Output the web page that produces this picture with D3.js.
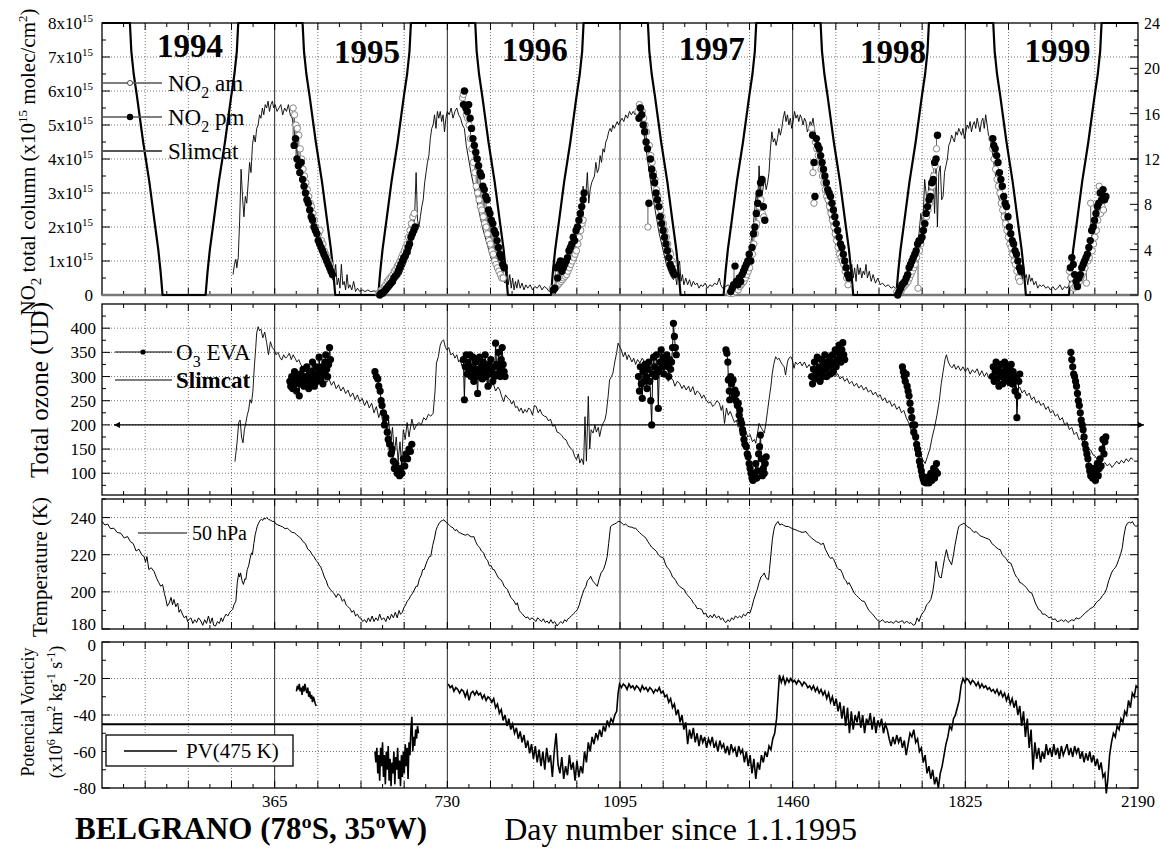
<!DOCTYPE html>
<html>
<head>
<meta charset="utf-8">
<script src="https://cdn.jsdelivr.net/npm/d3@7"></script>
<style>
body { margin: 0; background: #fff; }
svg text { font-family: "Liberation Serif", "Times New Roman", serif; fill: #000; }
</style>
</head>
<body>
<svg id="chart" width="1160" height="848"></svg>
<script>
// ---- data (days counted on the figure's own axis, 0 = left edge) ----
var years = ['1994', '1995', '1996', '1997', '1998', '1999'];
var yearLabelDay = [186, 560, 915, 1289, 1672, 2020];
var xTickDays = [365, 730, 1095, 1460, 1825, 2190];

// hours of sunlight (thick line, right axis)
var sunDay = [0, 59, 62, 67, 74, 87, 100, 111, 119, 124, 128, 219, 223, 228, 236, 247, 260, 273, 280, 285, 288,
  424, 427, 432, 439, 452, 465, 476, 484, 489, 493, 584, 588, 593, 601, 612, 625, 638, 645, 650, 653,
  789, 792, 797, 804, 817, 830, 841, 849, 854, 858, 949, 953, 958, 966, 977, 990, 1003, 1010, 1015, 1018,
  1154, 1157, 1162, 1169, 1182, 1195, 1206, 1214, 1219, 1223, 1314, 1318, 1323, 1331, 1342, 1355, 1368, 1375, 1380, 1383,
  1519, 1522, 1527, 1534, 1547, 1560, 1571, 1579, 1584, 1588, 1679, 1683, 1688, 1696, 1707, 1720, 1733, 1740, 1745, 1748,
  1884, 1887, 1892, 1899, 1912, 1925, 1936, 1944, 1949, 1953, 2044, 2048, 2053, 2061, 2072, 2085, 2098, 2105, 2110, 2113, 2190];
var sunHours = [24, 24, 21.5, 19.5, 17.5, 13.5, 10, 6.5, 4, 2, 0, 0, 2, 4, 6.5, 10, 13.5, 17.5, 19.5, 21.5, 24,
  24, 21.5, 19.5, 17.5, 13.5, 10, 6.5, 4, 2, 0, 0, 2, 4, 6.5, 10, 13.5, 17.5, 19.5, 21.5, 24,
  24, 21.5, 19.5, 17.5, 13.5, 10, 6.5, 4, 2, 0, 0, 2, 4, 6.5, 10, 13.5, 17.5, 19.5, 21.5, 24,
  24, 21.5, 19.5, 17.5, 13.5, 10, 6.5, 4, 2, 0, 0, 2, 4, 6.5, 10, 13.5, 17.5, 19.5, 21.5, 24,
  24, 21.5, 19.5, 17.5, 13.5, 10, 6.5, 4, 2, 0, 0, 2, 4, 6.5, 10, 13.5, 17.5, 19.5, 21.5, 24,
  24, 21.5, 19.5, 17.5, 13.5, 10, 6.5, 4, 2, 0, 0, 2, 4, 6.5, 10, 13.5, 17.5, 19.5, 21.5, 24, 24];

// NO2 Slimcat, x10^15 molec/cm2
var no2Slimcat = [[277,0.6],[280,0.9],[283,1.05],[285,0.8],[288,1.1],[291,2.2],[294,3.7],[297,2.9],[300,2.3],[303,2.9],[306,2.7],[309,3.3],[312,3.9],[315,3.6],[318,4.4],[321,4.7],[324,4.5],[327,4.9],[330,5.0],[333,5.3],[336,5.2],[339,5.5],[342,5.3],[345,5.6],[348,5.5],[351,5.7],[354,5.4],[357,5.6],[360,5.7],[363,5.5],[366,5.6],[370,5.4],[374,5.5],[378,5.6],[382,5.3],[386,5.5],[390,5.4],[394,5.6],[398,5.3],[402,5.2],
  [406,4.9],[410,4.4],[415,3.9],[420,3.5],[426,3.1],[432,2.8],[438,2.4],[444,2.1],[450,1.8],[456,1.6],[462,1.3],[468,1.1],[474,0.9],[480,0.7],[486,0.5],[490,0.4],
  [494,0.9],[497,0.3],[500,0.5],[503,0.2],[506,0.9],[509,0.3],[512,0.4],[515,0.15],[518,0.6],[521,0.2],[524,0.3],[528,0.15],[532,0.4],[536,0.1],[540,0.2],[545,0.1],[550,0.15],[556,0.1],[562,0.15],[568,0.1],[575,0.12],[582,0.1],[588,0.1],
  [595,0.2],[602,0.25],[610,0.35],[618,0.45],[625,0.5],[632,0.6],[638,0.8],[644,1.0],[648,1.3],[651,1.2],[655,1.6],[658,1.9],[661,2.4],[664,3.6],[667,2.2],[670,2.0],[673,2.3],[676,2.6],[679,2.8],[682,3.3],[685,3.6],[688,3.9],[691,4.1],[694,4.6],[697,4.9],[700,5.0],[703,5.3],[706,4.9],[709,5.4],[712,5.2],[715,5.4],[718,5.1],[721,5.3],[724,4.8],[727,5.2],[730,5.4],[734,5.3],[738,5.5],[742,5.2],[746,5.4],[750,5.5],[754,5.3],[758,5.2],[762,5.0],
  [766,4.9],[770,4.4],[775,4.0],[780,3.6],[786,3.2],[792,2.8],[798,2.4],[804,2.0],[810,1.7],[816,1.4],[822,1.1],[828,0.9],[834,0.7],[840,0.55],[846,0.45],[852,0.35],
  [856,0.9],[859,0.3],[862,0.6],[865,0.2],[868,0.5],[871,0.15],[874,0.4],[877,0.2],[880,0.45],[884,0.2],[888,0.35],[892,0.15],[896,0.3],[900,0.2],[905,0.3],[910,0.15],[915,0.25],[920,0.2],[925,0.3],[930,0.15],[935,0.25],[940,0.2],[945,0.1],[950,0.15],
  [956,0.2],[962,0.3],[968,0.4],[975,0.5],[982,0.6],[989,0.8],[995,1.1],[1000,1.4],[1005,1.8],[1010,2.2],[1014,2.6],[1017,3.2],[1020,2.8],[1023,3.0],[1026,3.6],[1029,2.7],[1032,3.1],[1035,3.3],[1038,3.4],[1041,3.5],[1044,3.9],[1047,3.6],[1050,3.7],[1053,4.1],[1056,3.9],[1059,4.3],[1062,4.2],[1065,4.5],[1068,4.6],[1071,4.8],[1074,4.9],[1077,4.8],[1080,5.0],[1083,4.9],[1086,5.0],[1089,5.1],[1092,5.0],[1095,5.1],[1099,5.2],[1103,5.1],[1107,5.3],[1111,5.2],[1115,5.4],[1119,5.3],[1123,5.4],[1127,5.3],[1131,5.5],[1135,5.6],[1139,5.4],
  [1143,5.0],[1148,4.5],[1153,4.0],[1158,3.5],[1163,3.0],[1168,2.6],[1173,2.2],[1178,1.8],[1183,1.5],[1188,1.2],[1193,0.9],[1198,0.7],[1203,0.55],[1208,0.45],
  [1212,0.6],[1215,0.3],[1218,0.8],[1221,1.0],[1224,0.4],[1227,0.6],[1230,0.3],[1234,0.5],[1238,0.3],[1242,0.45],[1246,0.25],[1250,0.4],[1254,0.3],[1258,0.35],[1262,0.2],[1266,0.3],[1270,0.25],[1275,0.35],[1280,0.2],[1285,0.3],[1290,0.25],[1295,0.35],[1300,0.3],[1305,0.5],[1308,0.3],[1312,0.2],
  [1318,0.25],[1324,0.3],[1330,0.2],[1336,0.4],[1342,0.45],[1348,0.5],[1354,0.7],[1360,0.9],[1366,1.2],[1371,1.5],[1375,1.8],[1379,2.4],[1383,3.0],[1386,2.7],[1389,3.8],[1392,3.0],[1395,2.9],[1398,3.2],[1401,3.4],[1404,3.1],[1407,3.3],[1410,3.6],[1413,4.3],[1416,4.8],[1419,4.5],[1422,4.6],[1425,4.4],[1428,4.6],[1431,4.9],[1434,4.7],[1437,4.9],[1440,5.2],[1443,5.4],[1446,5.1],[1449,5.3],[1452,5.0],[1455,5.2],[1458,4.9],[1461,5.1],[1464,5.4],[1467,5.2],[1470,5.3],[1473,5.1],[1476,5.3],[1479,5.2],[1482,5.0],[1485,5.2],[1488,5.1],[1491,4.8],[1494,4.9],[1497,5.1],[1500,5.0],[1503,5.2],
  [1507,4.8],[1511,4.4],[1516,4.0],[1521,3.6],[1526,3.2],[1531,2.8],[1536,2.4],[1541,2.1],[1546,1.8],[1551,1.5],[1556,1.2],[1561,1.0],[1566,0.8],[1571,0.6],[1576,0.5],[1581,0.45],
  [1585,0.9],[1588,0.5],[1591,0.8],[1594,0.4],[1597,0.9],[1600,0.6],[1603,0.8],[1606,0.5],[1609,0.7],[1612,0.6],[1615,0.9],[1618,0.5],[1622,0.7],[1626,0.4],[1630,0.6],[1635,0.35],[1640,0.5],[1645,0.3],[1650,0.35],[1656,0.25],[1662,0.3],[1668,0.2],[1674,0.25],[1680,0.15],
  [1686,0.2],[1692,0.3],[1698,0.45],[1704,0.6],[1710,0.8],[1716,1.1],[1722,1.4],[1727,1.8],[1731,2.4],[1735,2.0],[1739,3.4],[1742,3.0],[1745,2.6],[1748,3.3],[1751,3.0],[1754,3.6],[1757,3.4],[1760,2.4],[1763,3.8],[1766,2.0],[1769,3.6],[1772,3.8],[1775,2.8],[1778,2.9],[1781,3.6],[1784,3.8],[1787,4.0],[1790,4.4],[1793,4.5],[1796,4.7],[1799,4.6],[1802,4.5],[1805,4.8],[1808,4.7],[1811,4.9],[1814,4.8],[1817,4.7],[1820,4.9],[1823,4.6],[1826,4.8],[1829,5.0],[1832,4.9],[1835,5.1],[1838,4.8],[1841,5.0],[1844,5.1],[1847,4.9],[1850,5.2],[1853,5.0],[1856,4.8],[1859,5.1],[1862,5.2],[1865,4.9],[1868,5.3],[1871,5.0],[1874,4.7],
  [1878,4.6],[1883,4.1],[1888,3.6],[1893,3.1],[1898,2.7],[1903,2.3],[1908,2.0],[1913,1.7],[1918,1.4],[1923,1.1],[1928,0.9],[1933,0.7],[1938,0.5],
  [1942,0.8],[1945,0.4],[1948,0.9],[1951,0.5],[1954,0.6],[1957,0.3],[1960,0.6],[1963,0.4],[1966,0.5],[1970,0.3],[1974,0.4],[1978,0.2],[1982,0.3],[1986,0.25],[1990,0.3],[1995,0.2],[2000,0.25],[2005,0.15],[2010,0.25],[2015,0.15],[2020,0.2],[2025,0.3],[2030,0.15],[2035,0.25],[2040,0.2],
  [2045,0.3],[2050,0.2],[2055,0.25],[2060,0.3],[2065,0.4],[2070,0.6],[2075,0.8],[2080,1.0],[2085,1.3],[2090,1.6],[2095,1.9],[2100,2.2],[2105,2.5],[2110,2.8],[2115,2.9],[2120,3.0]];

// NO2 measured: [day, am, pm]
var no2Obs = [[404,5.5,4.4],[407,5.3,4.6],[410,5.0,4.0],[413,4.9,3.8],[416,4.7,3.6],[419,4.3,3.9],[422,4.0,3.4],[425,3.7,3.2],[428,3.5,3.0],[431,3.3,2.8],[434,3.1,2.7],[437,2.9,2.5],[440,2.7,2.3],[443,2.6,2.2],[446,2.4,2.0],[449,2.2,1.9],[452,2.0,1.8],[455,1.9,1.6],[458,1.8,1.5],[461,1.9,1.4],[464,1.6,1.3],[467,1.5,1.2],[470,1.3,1.1],[473,1.2,1.0],[476,1.1,0.9],[479,1.0,0.8],[482,0.9,0.7],[485,0.8,0.6],
  [585,0.05,0.0],[588,0.1,0.05],[591,0.15,0.05],[594,0.2,0.1],[597,0.25,0.15],[600,0.3,0.2],[603,0.4,0.25],[606,0.45,0.3],[609,0.5,0.35],[612,0.55,0.4],[615,0.6,0.5],[618,0.7,0.55],[621,0.75,0.6],[624,0.85,0.7],[627,0.9,0.8],[630,1.0,0.9],[633,1.1,1.0],[636,1.2,1.1],[639,1.3,1.15],[642,1.4,1.25],[645,1.5,1.4],[648,1.7,1.5],[651,1.9,1.7],[654,2.1,1.8],[657,2.3,1.9],[660,2.4,2.0],
  [762,5.8,5.6],[764,5.9,6.0],[767,5.6,5.5],[770,5.3,5.4],[773,5.2,5.6],[776,5.0,5.2],[779,4.6,4.9],[782,4.3,4.6],[785,3.9,4.4],[788,3.6,4.2],[791,3.2,4.0],[794,3.0,3.8],[797,2.8,3.6],[800,2.6,3.5],[803,2.5,3.2],[806,2.3,3.1],[809,2.1,2.9],[812,2.0,2.8],[815,1.8,2.5],[818,1.6,2.4],[821,1.5,2.2],[824,1.3,2.1],[827,1.2,1.9],[830,1.0,1.8],[833,0.9,1.6],[836,0.8,1.4],[839,0.7,1.2],[842,0.6,1.1],[845,0.5,0.9],[848,0.5,0.8],
  [952,0.2,0.15],[955,0.15,0.2],[958,0.2,0.8],[961,0.25,0.5],[964,0.3,0.9],[967,0.35,1.0],[970,0.4,0.7],[973,0.45,0.8],[976,0.5,0.9],[979,0.55,1.0],[982,0.6,1.1],[985,0.7,1.3],[988,0.8,1.4],[991,0.9,1.5],[994,1.0,1.7],[997,1.1,1.6],[1000,1.2,1.9],[1003,1.3,2.0],[1006,1.5,2.2],[1009,1.7,2.4],[1012,1.9,2.6],[1015,2.1,2.8],[1017,2.2,3.0],
  [1133,5.4,5.2],[1136,5.6,5.5],[1139,5.5,5.3],[1142,5.4,5.0],[1145,5.2,4.8],[1148,5.0,4.5],[1151,4.8,4.3],[1154,2.0,2.7],[1157,4.4,4.0],[1160,4.1,3.7],[1163,3.9,3.5],[1166,3.6,3.3],[1169,3.4,3.0],[1172,3.1,2.8],[1175,2.9,2.6],[1178,2.7,2.3],[1181,2.5,2.1],[1184,2.3,1.9],[1187,2.1,1.7],[1190,1.9,1.5],[1193,1.7,1.3],[1196,1.5,1.1],[1199,1.3,0.9],[1202,1.2,0.8],[1205,1.0,0.7],[1208,0.9,0.6],
  [1327,0.05,0.1],[1330,0.1,0.2],[1333,0.05,0.3],[1336,0.15,0.85],[1339,0.1,0.4],[1342,0.2,0.3],[1345,0.15,0.5],[1348,0.25,0.4],[1351,0.3,0.6],[1354,0.35,0.7],[1357,0.4,0.8],[1360,0.5,0.9],[1363,0.6,1.0],[1366,0.7,1.2],[1369,0.8,1.0],[1372,1.0,1.4],[1375,1.2,1.8],[1378,1.5,2.0],[1381,1.8,2.4],[1384,2.1,2.7],[1387,2.4,3.0],[1390,2.6,3.3],[1393,2.8,3.4],[1396,2.4,2.6],[1399,2.3,2.2],
  [1500,4.9,4.7],[1503,3.6,3.9],[1505,2.7,2.9],[1508,4.5,4.6],[1511,4.3,4.4],[1514,4.1,4.3],[1517,3.9,4.1],[1520,3.7,3.9],[1523,3.5,3.7],[1526,3.3,3.5],[1529,3.1,3.3],[1532,2.9,3.1],[1535,2.8,3.0],[1538,2.6,2.9],[1541,2.4,2.7],[1544,2.2,2.5],[1547,2.0,2.3],[1550,1.8,2.1],[1553,1.6,1.9],[1556,1.4,1.7],[1559,1.2,1.5],[1562,1.1,1.4],[1565,1.0,1.2],[1568,0.9,1.0],[1571,0.7,0.8],[1574,0.5,0.6],[1577,0.3,0.5],
  [1680,0.1,0.0],[1683,0.05,0.1],[1686,0.15,0.2],[1689,0.1,0.3],[1692,0.2,0.35],[1695,0.25,0.4],[1698,0.3,0.5],[1701,0.35,0.6],[1704,0.4,0.8],[1707,0.5,0.9],[1710,0.6,1.0],[1713,0.7,1.1],[1716,0.8,1.2],[1719,0.9,1.3],[1722,1.1,1.5],[1725,0.2,1.6],[1728,1.3,1.6],[1731,1.5,1.7],[1734,1.7,1.9],[1737,1.9,2.1],[1740,2.1,2.4],[1743,2.3,2.6],[1746,2.5,2.8],[1749,2.7,2.9],[1752,3.0,3.3],[1755,3.2,3.4],[1758,3.5,3.9],[1761,3.8,4.0],[1764,4.3,4.7],
  [1881,4.6,4.6],[1883,4.3,4.4],[1886,4.0,4.3],[1889,3.7,4.1],[1892,3.4,3.9],[1895,3.2,3.6],[1898,3.0,3.4],[1901,2.7,3.2],[1904,2.5,2.9],[1907,2.3,2.7],[1910,2.1,2.6],[1913,1.9,2.3],[1916,1.7,2.0],[1919,1.5,1.8],[1922,1.4,1.6],[1925,1.2,1.5],[1928,1.0,1.3],[1931,0.9,1.2],[1934,0.7,1.0],[1937,0.5,0.8],[1940,0.4,0.7],
  [2045,0.7,0.8],[2048,0.5,1.1],[2051,0.3,0.9],[2054,0.2,0.6],[2057,0.25,0.4],[2060,0.3,0.25],[2063,0.35,0.5],[2066,0.4,0.6],[2069,0.5,0.8],[2072,0.6,0.9],[2075,0.7,1.0],[2078,0.8,1.1],[2081,0.35,1.2],[2084,1.0,1.4],[2087,1.1,1.6],[2090,2.7,1.9],[2093,1.3,2.0],[2096,1.5,2.2],[2099,1.7,2.4],[2102,1.9,2.6],[2105,2.2,2.7],[2108,3.2,3.0],[2111,2.4,2.8],[2114,2.6,3.1],[2117,2.5,2.8],[2120,2.8,2.9]];

// total ozone Slimcat (DU)
var o3Slimcat = [[281,124],[284,150],[286,169],[289,205],[292,210],[295,175],[298,163],[301,190],[304,204],[307,220],[310,231],[313,252],[316,245],[319,270],[322,320],[325,360],[327,390],[330,403],[333,395],[336,398],[340,380],[344,392],[348,370],[352,345],[356,372],[360,360],[364,355],[368,345],[372,350],[376,340],[380,334],[384,345],[388,338],[392,342],[396,348],[400,335],[404,345],[408,338],[412,330],[416,335],[420,325],[425,318],[430,322],[435,312],[440,318],[445,305],[450,310],[455,298],[460,305],[465,292],[470,300],[475,288],[480,295],[485,282],[490,290],[495,275],[500,283],[505,270],[510,278],[515,265],[520,272],[525,258],[530,266],[535,252],[540,262],[545,248],[550,255],[555,240],[560,250],[565,235],[570,245],[575,225],[580,238],[585,215],[590,230],[594,200],[598,225],[602,180],[606,210],[610,160],[614,195],[618,140],[622,175],[626,125],[630,165],[633,117],[637,190],[641,170],[645,205],[649,175],[655,212],[660,190],[665,200],[670,205],[675,200],[680,215],[685,210],[690,222],[695,218],[700,224],[704,270],[707,328],[711,341],[715,365],[718,372],[722,376],[726,360],[729,355],[733,360],[737,345],[742,348],[746,338],[750,345],[754,330],[757,334],[761,322],[765,328],[771,334],[776,318],[781,325],[786,315],[792,321],[797,305],[802,312],[808,298],[813,290],[818,282],[822,279],[827,286],[832,270],[837,278],[841,272],[845,258],[849,248],[853,262],[858,255],[862,252],[866,243],[870,250],[874,236],[878,238],[882,228],[886,235],[890,224],[894,232],[898,226],[902,235],[906,231],[910,220],[914,240],[918,238],[922,225],[926,232],[930,222],[935,218],[939,217],[944,208],[948,212],[953,197],[957,200],[962,185],[967,183],[972,178],[976,172],[981,169],[985,160],[990,152],[995,148],[999,135],[1003,128],[1007,140],[1010,121],[1014,130],[1018,118],[1021,217],[1024,125],[1028,259],[1031,150],[1034,190],[1038,183],[1042,200],[1045,185],[1049,195],[1052,176],[1056,195],[1059,203],[1063,210],[1066,224],[1070,260],[1073,293],[1077,300],[1080,307],[1084,330],[1088,350],[1091,369],[1095,360],[1098,355],[1102,341],[1106,350],[1110,335],[1113,345],[1116,340],[1120,330],[1124,338],[1128,325],[1132,335],[1137,328],[1142,338],[1147,330],[1152,315],[1157,328],[1162,310],[1165,321],[1170,305],[1174,318],[1179,314],[1183,300],[1188,308],[1193,300],[1197,290],[1202,298],[1207,293],[1211,280],[1216,290],[1221,286],[1226,275],[1230,282],[1235,272],[1240,280],[1244,268],[1249,279],[1254,262],[1258,270],[1263,266],[1268,255],[1272,262],[1277,252],[1282,245],[1286,248],[1291,238],[1295,242],[1300,250],[1305,245],[1309,230],[1312,240],[1316,203],[1320,235],[1324,220],[1328,228],[1333,215],[1337,205],[1341,210],[1345,195],[1350,200],[1355,185],[1360,190],[1365,175],[1370,180],[1375,165],[1379,170],[1382,162],[1386,185],[1389,203],[1393,195],[1396,190],[1400,183],[1403,200],[1407,230],[1410,252],[1414,280],[1417,307],[1420,325],[1424,341],[1428,335],[1431,338],[1435,330],[1438,325],[1442,320],[1445,303],[1449,330],[1452,338],[1456,341],[1459,335],[1463,317],[1466,330],[1470,325],[1473,328],
  [1476,330],[1480,322],[1485,330],[1490,318],[1495,325],[1500,315],[1505,322],[1510,318],[1515,325],[1520,312],[1525,320],[1530,310],[1535,316],[1540,305],[1545,312],[1550,300],[1555,306],[1560,295],[1565,300],[1570,290],[1575,296],[1580,285],[1585,290],[1590,280],[1595,286],[1600,276],[1605,282],[1610,272],[1615,278],[1620,268],[1625,272],[1630,262],[1635,268],[1640,258],[1645,262],[1650,250],[1655,256],[1660,245],[1665,250],[1670,238],[1675,244],[1680,232],[1685,238],[1690,225],[1695,230],[1700,215],[1705,205],[1710,190],[1715,180],[1720,165],[1725,150],[1730,140],[1735,128],[1740,120],[1745,135],[1750,150],[1755,175],[1760,195],[1765,220],[1770,250],[1774,285],[1778,310],[1782,335],[1785,345],[1789,330],[1793,322],[1797,318],[1801,325],[1805,315],[1810,322],[1815,312],[1820,320],[1825,310],[1830,318],[1835,305],[1840,314],[1845,308],[1850,316],[1855,302],[1860,312],[1865,300],[1870,308],[1875,296],[1880,305],[1885,292],[1890,300],[1895,288],[1900,296],[1905,285],[1910,292],[1915,280],[1920,288],[1925,276],[1930,284],[1935,272],[1940,278],[1945,266],[1950,272],[1955,260],[1960,266],[1965,252],[1970,258],[1975,245],[1980,250],[1985,240],[1990,245],[1995,232],[2000,238],[2005,225],[2010,230],[2015,218],[2020,222],[2025,210],[2030,215],[2035,200],[2040,205],[2045,190],[2050,195],[2055,180],[2060,185],[2065,170],[2070,172],[2075,160],[2080,165],[2085,150],[2090,148],[2095,138],[2100,135],[2105,125],[2110,128],[2115,118],[2120,122],[2125,115],[2130,120],[2135,112],[2140,118],[2145,125],[2150,119],[2155,127],[2160,121],[2165,130],[2170,124],[2175,132],[2180,128]];

// total ozone EVA (DU)
var o3Eva = [[397,290],[399,280],[401,300],[403,275],[405,295],[407,310],[409,285],[411,270],[413,300],[415,290],[417,260],[419,305],[421,285],[423,295],[425,315],[427,280],[429,300],[431,290],[433,320],[435,295],[437,275],[439,305],[441,285],[443,310],[445,330],[447,295],[449,280],[451,305],[453,320],[455,290],[457,300],[459,340],[461,310],[463,295],[465,320],[467,285],[469,305],[471,330],[473,345],[475,315],[477,300],[479,325],[481,360],[483,335],
  [577,310],[580,300],[583,295],[585,280],[588,270],[590,250],[592,240],[595,225],[597,200],[600,215],[603,185],[605,170],[608,160],[611,140],[613,150],[616,125],[618,110],[621,120],[624,100],[626,105],[629,95],[631,110],[634,100],[637,130],[640,115],[643,140],[646,130],[649,150],[652,145],[655,160],
  [764,335],[766,252],[768,320],[770,345],[772,305],[774,330],[776,315],[778,345],[780,300],[782,320],[784,340],[786,290],[788,310],[790,330],[792,300],[794,265],[796,315],[798,340],[800,305],[802,320],[804,295],[806,330],[808,310],[810,345],[812,300],[814,318],[816,280],[818,325],[820,305],[822,335],[824,312],[826,290],[828,320],[830,300],[832,369],[834,325],[836,305],[838,350],[840,318],[842,300],[844,335],[846,360],[848,325],[850,310],[852,300],
  [1134,300],[1136,270],[1138,320],[1140,285],[1142,255],[1144,310],[1146,290],[1148,325],[1150,300],[1152,275],[1154,315],[1156,330],[1158,290],[1160,250],[1162,200],[1164,305],[1166,340],[1168,320],[1170,300],[1172,345],[1174,315],[1176,234],[1178,310],[1180,330],[1182,355],[1184,320],[1186,340],[1188,305],[1190,335],[1192,325],[1194,345],[1196,320],[1198,300],[1200,335],[1202,315],[1204,330],[1206,360],[1208,410],[1210,383],[1212,360],[1214,345],
  [1319,355],[1321,348],[1323,330],[1324,293],[1326,270],[1327,252],[1329,300],[1331,285],[1334,293],[1336,260],[1338,272],[1340,250],[1341,265],[1343,240],[1345,245],[1347,220],[1348,231],[1350,210],[1352,203],[1354,190],[1355,183],[1357,170],[1359,160],[1362,155],[1364,140],[1366,134],[1368,120],[1370,110],[1372,100],[1374,90],[1376,85],[1378,100],[1380,95],[1382,120],[1384,90],[1386,105],[1388,140],[1390,155],[1392,179],[1394,130],[1396,95],[1398,110],[1400,100],[1402,120],[1404,134],
  [1500,300],[1502,285],[1504,315],[1506,330],[1508,295],[1510,310],[1512,340],[1514,305],[1516,320],[1518,290],[1520,335],[1522,310],[1524,300],[1526,325],[1528,345],[1530,315],[1532,300],[1534,330],[1536,320],[1538,340],[1540,305],[1542,325],[1544,345],[1546,310],[1548,330],[1550,355],[1552,320],[1554,335],[1556,350],[1558,365],[1560,340],[1562,330],[1564,355],[1566,370],[1568,345],[1570,335],
  [1692,320],[1694,310],[1696,300],[1698,290],[1700,305],[1702,280],[1704,270],[1706,260],[1708,245],[1710,230],[1712,215],[1714,200],[1716,185],[1718,200],[1720,175],[1722,160],[1724,150],[1726,140],[1728,125],[1730,115],[1732,105],[1734,95],[1736,88],[1738,82],[1740,90],[1742,80],[1744,85],[1746,92],[1748,80],[1750,88],[1752,100],[1754,85],[1756,95],[1758,110],[1760,90],[1762,105],[1764,120],[1766,100],
  [1882,300],[1884,320],[1886,290],[1888,310],[1890,330],[1892,295],[1894,315],[1896,280],[1898,305],[1900,325],[1902,300],[1904,285],[1906,310],[1908,330],[1910,295],[1912,320],[1914,305],[1916,290],[1918,315],[1920,300],[1922,325],[1924,285],[1926,310],[1928,295],[1930,270],[1932,300],[1934,215],[1936,260],[1938,290],[1940,305],
  [2048,350],[2050,335],[2052,320],[2054,305],[2056,300],[2058,290],[2060,280],[2062,265],[2064,250],[2066,240],[2068,225],[2070,210],[2072,200],[2074,190],[2076,175],[2078,160],[2080,150],[2082,140],[2084,130],[2086,115],[2088,105],[2090,95],[2092,100],[2094,90],[2096,110],[2098,95],[2100,85],[2102,100],[2104,120],[2106,95],[2108,110],[2110,130],[2112,115],[2114,150],[2116,170],[2118,140],[2120,165],[2122,175]];

// temperature at 50 hPa (K)
var temp50 = [[0,238],[6,236],[12,236.5],[18,234],[25,234.3],[32,232],[40,231.5],[47,229],[54,229.8],[60,227],[66,226],[72,222],[78,223],[84,220],[89,219],[92,216],[95,219],[99,212],[104,213],[110,211],[116,207],[120,205],[124,203],[128,204],[132,199],[135,196],[138,192.3],[142,194],[146,197],[149,193],[152,195.9],[156,192],[160,194],[163,189],[166,190.5],[170,188],[174,186],[178,187],[181,184],[184,185.2],[188,186],[192,183],[196,185],[200,183.5],[204,186],[209,184.3],[213,182],[217,185],[221,183],[225,187],[229,183],[233,186],[236,182],[240,181.6],[244,184],[248,183],[252,186],[255,184],[258,186],[262,188],[266,187],[270,189],[274,190],[276,190.5],[279,193],[283,195],[286,205],[289,210],[291,208],[293,210.2],[296,206],[299,204],[302,207],[304,206.6],[307,212],[310,214],[313,218],[316,221],[318,220],[321,226],[324,231],[326,233],[328,235.2],[331,237],[334,238.5],[337,239],[340,238.5],[342,239.6],[345,239.2],[348,240],[352,239],[356,238.6],[360,238],[364,237.9],[368,236.5],[372,236],[377,235.5],[382,235],[387,234],[392,234.3],[397,233],[402,232],[407,231.8],[412,230.5],[416,229.8],[420,229],[425,227],[430,226],[435,223],[440,222],[444,220],[448,219.1],[452,217],[456,216],[460,214],[462,213.7],[466,211],[470,208],[474,206],[478,203],[483,201.2],[487,200],[491,199],[495,197],[499,199],[504,197.7],[508,195],[512,196],[516,193],[519,192.3],[524,191],[528,189],[532,190],[536,187],[540,188],[544,186],[547,186],[551,184],[555,185],[559,183.5],[563,186],[567,184],[571,187],[575,184],[579,186],[583,184.5],[587,188],[591,185],[596,186],[600,184],[604,187],[608,185],[612,188],[616,186],[620,189],[624,186],[628,190],[631,187.9],[635,189],[638,191.4],[642,193],[645,195],[649,196],[652,197.7],[656,199],[660,201],[664,203],[667,203],[671,207],[675,209],[678,212],[681,212],[685,215],[688,217],[692,219],[695,219.1],[699,225],[703,229],[706,233],[709,235.2],[713,237],[716,238],[720,238.5],[723,238.8],[727,237.5],[730,237],[734,236],[738,235],[742,234.5],[746,233],[750,233.5],[754,232],[758,231.6],[763,231],[768,230.5],[773,231],[778,230],[782,229.5],[786,229.8],[790,227],[794,225],[798,224],[802,222],[807,220.9],[811,218],[815,217],[819,214],[823,214],[826,212],[829,212],[833,210],[837,208],[840,207],[843,206.6],[847,205],[850,203],[854,202],[857,201.2],[861,199],[864,197],[868,196],[871,195],[875,193],[878,194.1],[882,190],[885,189],[889,188],[892,187],[896,186],[900,186.5],[904,185],[909,186],[913,185.2],[917,184],[921,186],[925,185],[929,184],[933,185.5],[937,183.5],[941,184.3],[945,183],[949,185],[953,183],[957,184],[962,181.6],[966,183],[970,184],[974,183],[978,185],[982,184],[984,185.2],[988,186],[992,187],[996,188],[1000,189],[1005,190.5],[1009,193],[1012,196],[1016,199],[1019,201.2],[1023,203],[1026,206],[1030,207],[1033,208.4],[1037,206],[1040,205],[1044,204],[1047,203],[1051,207],[1055,210.2],[1060,212],[1064,215],[1068,219.1],[1071,226],[1075,235.2],[1079,236],[1083,236.5],[1087,237],[1091,237.9],[1095,237.9],[1099,237],[1103,236],[1107,236.5],[1111,235.5],[1115,235],[1120,234.8],[1124,234.3],[1128,234.3],[1132,233],[1136,232],[1140,231],[1145,230],[1150,228.9],[1154,227],[1158,225.5],[1162,224],[1167,223],[1172,221.8],[1176,220],[1180,219],[1184,218.5],[1187,218.2],[1191,215],[1195,213],[1199,212],[1203,210],[1206,208],[1209,207.5],[1213,206],[1217,204],[1221,203],[1226,202],[1231,201.2],[1235,199],[1239,198],[1242,197],[1246,195.9],[1250,194],[1254,193],[1258,191],[1263,191],[1268,190.5],[1272,188],[1276,188.5],[1279,187],[1282,186],[1286,187.5],[1290,186],[1294,188],[1299,186],[1304,187],[1308,185],[1312,186],[1316,184],[1319,183.4],[1323,185],[1327,184],[1331,186],[1335,185],[1339,187],[1344,186],[1348,187],[1352,186],[1356,188],[1360,187],[1365,189],[1370,188.7],[1374,192],[1378,196],[1382,199],[1385,201.2],[1389,205],[1393,208],[1397,209],[1400,210.2],[1403,208],[1406,207],[1409,206.6],[1411,212],[1414,220],[1417,228],[1420,233],[1422,235.2],[1426,237],[1429,237.9],[1433,236],[1437,236.5],[1441,235.8],[1446,235.2],[1451,235.2],[1456,234.5],[1460,234],[1465,233.5],[1470,233],[1475,232.5],[1480,232],[1484,232.2],[1488,232.5],[1492,231],[1496,230],[1500,229],[1505,228],[1510,227],[1515,226.5],[1520,225.5],[1525,226.2],[1529,223],[1533,221],[1537,219],[1540,218],[1544,218.5],[1547,217.3],[1551,215],[1554,213],[1558,212],[1561,212],[1565,210],[1569,207],[1573,206],[1576,204],[1579,205],[1583,203],[1587,201],[1591,199],[1595,198],[1599,197],[1603,196],[1607,195],[1611,195],[1613,194.1],[1617,192],[1621,190],[1625,189],[1629,188],[1632,187],[1635,186],[1640,184.5],[1645,184],[1650,185],[1655,183.5],[1660,184],[1664,183.4],[1668,184],[1673,183],[1678,184.5],[1683,183.5],[1688,184],[1692,184.5],[1696,183],[1701,184.3],[1706,183],[1710,183.5],[1715,182],[1719,182.5],[1723,186],[1727,184],[1731,187],[1735,188.7],[1739,190],[1743,193],[1747,194],[1752,195.9],[1756,200],[1759,205],[1761,210],[1763,216.4],[1766,212],[1770,208],[1774,207.5],[1777,212],[1781,218],[1785,222.7],[1789,218],[1793,216],[1796,214.6],[1800,220],[1803,225],[1806,229],[1809,233],[1811,235.2],[1815,236],[1819,236.5],[1822,237],[1826,236],[1830,235],[1834,234.5],[1838,233.5],[1843,232],[1848,232.5],[1853,231],[1858,230],[1863,229.5],[1868,229],[1873,228.5],[1877,228],[1881,226],[1886,225],[1890,224],[1895,223],[1899,222.7],[1903,220],[1907,219],[1911,218],[1916,216],[1921,215.5],[1925,213],[1929,210],[1933,208],[1937,207],[1940,205],[1943,204.8],[1947,204],[1951,203],[1955,202],[1960,200],[1965,199.5],[1969,197],[1973,194],[1977,192],[1980,190.5],[1984,190],[1988,188],[1993,188],[1998,187],[2002,186],[2006,186.5],[2010,185],[2015,185.5],[2019,184],[2024,184.3],[2028,185],[2033,184],[2037,185],[2042,183.5],[2046,184.3],[2050,185],[2055,184.5],[2059,186],[2064,185.5],[2068,186],[2072,187],[2076,188],[2080,189],[2085,190],[2089,191],[2093,191.5],[2097,192.3],[2101,194],[2105,195],[2110,196],[2115,198],[2120,199.5],[2124,202],[2128,206],[2131,208],[2134,210.2],[2138,212],[2142,213],[2146,215],[2149,217.3],[2153,220],[2157,224],[2160,230],[2164,235.2],[2168,237],[2172,237.5],[2175,237],[2178,237.9],[2182,236],[2186,235.2],[2190,236]];

// potential vorticity at 475 K (x10^-6 km2 kg-1 s-1)
var pv475 = [[411,-27],[413,-24],[415,-26],[417,-23],[419,-27],[421,-25],[423,-29],[425,-24],[427,-27],[429,-23],[431,-26],[433,-28],[435,-25],[437,-30],[439,-27],[441,-31],[443,-29],[445,-33],[447,-30],[449,-32],[451,-34],[453,-35],
  [577,-60],[579,-66],[581,-58],[583,-72],[585,-62],[587,-76],[589,-58],[591,-68],[593,-55],[595,-74],[597,-62],[599,-78],[601,-60],[603,-70],[605,-57],[607,-76],[609,-64],[611,-79],[613,-66],[615,-72],[617,-60],[619,-78],[621,-63],[623,-70],[625,-58],[627,-75],[629,-65],[631,-79],[633,-62],[635,-74],[637,-60],[639,-72],[641,-56],[643,-68],[645,-58],[647,-75],[649,-55],[651,-62],[653,-48],[655,-41],[657,-60],[659,-52],[661,-57],[663,-48],[665,-53],[667,-46],[669,-50],
  [732,-23],[736,-25],[740,-24],[744,-27],[748,-25],[752,-26],[756,-28],[760,-26],[764,-27],[768,-30],[772,-27],[776,-32],[780,-28],[784,-27],[788,-29],[792,-27],[796,-29],[800,-28],[804,-31],[808,-29],[812,-32],[816,-30],[820,-31],[824,-33],[828,-31],[832,-36],[836,-34],[840,-39],[844,-37],[848,-43],[852,-40],[856,-46],[860,-42],[864,-48],[868,-45],[872,-50],[876,-47],[880,-53],[884,-49],[888,-55],[892,-51],[896,-58],[900,-54],[904,-61],[908,-56],[912,-64],[916,-57],[920,-66],[924,-59],[928,-68],[932,-60],[936,-70],[940,-58],[944,-66],[948,-62],[952,-74],[956,-60],[960,-50],[964,-67],[968,-72],[972,-63],[976,-75],[980,-68],[984,-73],[988,-62],[992,-70],[996,-66],[1000,-76],[1004,-65],[1008,-74],[1012,-68],[1016,-72],[1020,-60],[1024,-66],[1028,-55],[1032,-60],[1036,-52],[1040,-56],[1044,-50],[1048,-53],[1052,-48],[1056,-52],[1060,-46],[1064,-49],[1068,-43],[1072,-46],[1076,-42],[1080,-44],[1084,-40],[1088,-38],[1091,-28],[1094,-23],[1098,-25],[1102,-23],[1106,-24],[1110,-26],[1114,-23],[1118,-25],[1122,-24],[1126,-26],[1130,-24],[1134,-25],[1138,-27],[1142,-24],[1146,-26],[1150,-25],[1154,-27],[1158,-25],[1162,-26],[1166,-28],[1170,-26],[1174,-27],[1178,-25],[1182,-28],[1186,-27],[1190,-30],[1194,-29],[1198,-33],[1202,-31],[1206,-36],[1210,-34],[1214,-40],[1218,-37],[1222,-44],[1226,-40],[1230,-48],[1234,-44],[1238,-56],[1242,-48],[1246,-53],[1250,-47],[1254,-55],[1258,-50],[1262,-57],[1266,-51],[1270,-55],[1274,-52],[1278,-58],[1282,-53],[1286,-56],[1290,-52],[1294,-58],[1298,-55],[1302,-60],[1306,-54],[1310,-58],[1314,-56],[1318,-61],[1322,-57],[1326,-62],[1330,-56],[1334,-60],[1338,-58],[1342,-63],[1346,-57],[1350,-61],[1354,-59],[1358,-66],[1362,-60],[1366,-68],[1370,-62],[1374,-72],[1378,-64],[1382,-75],[1386,-66],[1390,-70],[1394,-62],[1398,-66],[1402,-60],[1406,-63],[1410,-57],[1414,-59],[1418,-53],[1422,-50],[1426,-42],[1429,-30],[1432,-18],[1436,-22],[1440,-19],[1444,-23],[1448,-20],[1452,-22],[1456,-20],[1460,-22],[1464,-21],[1468,-23],[1472,-21],[1476,-22],[1480,-24],[1484,-22],[1488,-23],[1492,-25],[1496,-24],[1500,-26],[1504,-24],[1508,-27],[1512,-25],[1516,-28],[1520,-26],[1524,-29],[1528,-27],[1532,-31],[1536,-28],[1540,-33],[1544,-30],[1548,-35],[1552,-31],[1556,-38],[1560,-33],[1564,-42],[1568,-35],[1572,-46],[1576,-36],[1580,-50],[1584,-38],[1588,-48],[1592,-40],[1596,-44],[1600,-38],[1604,-47],[1608,-40],[1612,-50],[1616,-42],[1620,-45],[1624,-39],[1628,-48],[1632,-41],[1636,-50],[1640,-43],[1644,-46],[1648,-42],[1652,-50],[1656,-45],[1660,-48],[1664,-53],[1668,-57],[1672,-52],[1676,-56],[1680,-51],[1684,-55],[1688,-52],[1692,-58],[1696,-54],[1700,-62],[1704,-56],[1708,-50],[1712,-52],[1716,-48],[1720,-55],[1724,-53],[1728,-60],[1732,-58],[1736,-66],[1740,-62],[1744,-72],[1748,-68],[1752,-75],[1756,-70],[1760,-78],[1764,-74],[1768,-80],[1772,-72],[1776,-68],[1780,-62],[1784,-56],[1788,-52],[1792,-46],[1796,-48],[1800,-42],[1804,-40],[1808,-36],[1812,-32],[1816,-24],[1820,-20],[1824,-22],[1828,-20],[1832,-21],[1836,-23],[1840,-21],[1844,-22],[1848,-24],[1852,-22],[1856,-25],[1860,-23],[1864,-25],[1868,-24],[1872,-26],[1876,-25],[1880,-27],[1884,-26],[1888,-28],[1892,-26],[1896,-29],[1900,-27],[1904,-30],[1908,-28],[1912,-32],[1916,-29],[1920,-34],[1924,-31],[1928,-36],[1932,-32],[1936,-40],[1940,-35],[1944,-46],[1948,-38],[1952,-52],[1956,-42],[1960,-58],[1964,-48],[1968,-70],[1972,-55],[1976,-64],[1980,-58],[1984,-66],[1988,-60],[1992,-64],[1996,-56],[2000,-62],[2004,-58],[2008,-63],[2012,-56],[2016,-62],[2020,-58],[2024,-64],[2028,-57],[2032,-62],[2036,-59],[2040,-56],[2044,-62],[2048,-58],[2052,-63],[2056,-57],[2060,-61],[2064,-58],[2068,-64],[2072,-60],[2076,-66],[2080,-61],[2084,-65],[2088,-60],[2092,-66],[2096,-62],[2100,-68],[2104,-64],[2108,-70],[2112,-66],[2116,-74],[2120,-72],[2123,-83],[2126,-76],[2130,-62],[2134,-55],[2138,-50],[2142,-52],[2146,-46],[2150,-48],[2154,-42],[2158,-44],[2162,-38],[2166,-40],[2170,-32],[2174,-36],[2178,-28],[2182,-30],[2186,-24],[2190,-25]];

var pvLimit = -45;
var o3Limit = 200;

// ---- layout ----
var svg = d3.select('#chart');
var x = d3.scaleLinear().domain([0, 2190]).range([102, 1138]);
var yNO2 = d3.scaleLinear().domain([0, 8]).range([295, 23]);
var ySun = d3.scaleLinear().domain([0, 24]).range([295, 23]);
var yO3 = d3.scaleLinear().domain([55, 450]).range([495, 304]);
var yT = d3.scaleLinear().domain([180, 250]).range([629, 499]);
var yPV = d3.scaleLinear().domain([-80, 0]).range([788, 642]);

var defs = svg.append('defs');
defs.append('marker').attr('id', 'arr').attr('viewBox', '0 0 10 10')
  .attr('refX', 10).attr('refY', 5).attr('markerWidth', 9).attr('markerHeight', 6)
  .attr('markerUnits', 'userSpaceOnUse').attr('orient', 'auto-start-reverse')
  .append('path').attr('d', 'M0,0L10,5L0,10z').attr('fill', '#000');

function splitGaps(data, gap) {
  var out = [], cur = [];
  data.forEach(function(d, i) {
    if (i > 0 && d[0] - data[i - 1][0] > gap) { out.push(cur); cur = []; }
    cur.push(d);
  });
  if (cur.length) out.push(cur);
  return out;
}

function drawPanel(y, majors, minors, opt) {
  var top = y.range()[1], bot = y.range()[0];
  var g = svg.append('g');
  // vertical grid
  d3.range(1, 24).forEach(function(i) {
    var px = x(i * 91.25);
    g.append('line').attr('x1', px).attr('x2', px).attr('y1', top).attr('y2', bot)
      .attr('stroke', i % 4 === 0 ? '#222' : '#555')
      .attr('stroke-width', i % 4 === 0 ? 1 : 0.8)
      .attr('stroke-dasharray', i % 4 === 0 ? null : '1,2');
  });
  // horizontal grid
  majors.forEach(function(v) {
    if (v === y.domain()[0] || v === y.domain()[1]) return;
    g.append('line').attr('x1', x(0)).attr('x2', x(2190)).attr('y1', y(v)).attr('y2', y(v))
      .attr('stroke', '#555').attr('stroke-width', 0.8).attr('stroke-dasharray', '1,2');
  });
  // ticks
  majors.forEach(function(v) {
    g.append('line').attr('x1', x(0)).attr('x2', x(0) + 8).attr('y1', y(v)).attr('y2', y(v)).attr('stroke', '#000');
    g.append('line').attr('x1', x(2190) - 8).attr('x2', x(2190)).attr('y1', y(v)).attr('y2', y(v)).attr('stroke', '#000');
  });
  minors.forEach(function(v) {
    g.append('line').attr('x1', x(0)).attr('x2', x(0) + 4).attr('y1', y(v)).attr('y2', y(v)).attr('stroke', '#000');
    g.append('line').attr('x1', x(2190) - 4).attr('x2', x(2190)).attr('y1', y(v)).attr('y2', y(v)).attr('stroke', '#000');
  });
  d3.range(1, 48).forEach(function(i) {
    var px = x(i * 45.625), len = i % 2 === 0 ? 7 : 4;
    g.append('line').attr('x1', px).attr('x2', px).attr('y1', top).attr('y2', top + len).attr('stroke', '#000');
    g.append('line').attr('x1', px).attr('x2', px).attr('y1', bot).attr('y2', bot - len).attr('stroke', '#000');
  });
  // frame
  g.append('rect').attr('x', x(0)).attr('y', top).attr('width', x(2190) - x(0)).attr('height', bot - top)
    .attr('fill', 'none').attr('stroke', '#000').attr('stroke-width', 1.3);
  // labels
  majors.forEach(function(v) {
    var dy = 6;
    if (v === y.domain()[0] && opt.lowShift) dy = opt.lowShift;
    if (v === y.domain()[1] && opt.highShift) dy = opt.highShift;
    var t = g.append('text').attr('x', opt.labelX || 96).attr('y', y(v) + dy)
      .attr('text-anchor', 'end').attr('font-size', 17);
    opt.fmt(t, v);
  });
  return g;
}

function plain(t, v) { t.text(v); }

// ---- panel 1: NO2 ----
var p1 = drawPanel(yNO2, d3.range(0, 9), d3.range(0.5, 8, 1), {
  labelX: 93,
  fmt: function(t, v) {
    if (v === 0) { t.text('0'); return; }
    t.text(v + 'x10');
    t.append('tspan').attr('dy', -7).attr('font-size', 11).text('15');
  }
});
p1.append('line').attr('x1', x(0)).attr('x2', x(2190)).attr('y1', yNO2(0)).attr('y2', yNO2(0))
  .attr('stroke', '#777').attr('stroke-width', 2.5);
// right axis (hours)
d3.range(0, 25, 4).forEach(function(v) {
  p1.append('line').attr('x1', x(2190) - 8).attr('x2', x(2190)).attr('y1', ySun(v)).attr('y2', ySun(v)).attr('stroke', '#000');
  p1.append('text').attr('x', 1144).attr('y', ySun(v) + 6).attr('font-size', 16).text(v);
});
d3.range(2, 24, 4).forEach(function(v) {
  p1.append('line').attr('x1', x(2190) - 4).attr('x2', x(2190)).attr('y1', ySun(v)).attr('y2', ySun(v)).attr('stroke', '#000');
});

var lineNO2 = d3.line().x(function(d) { return x(d[0]); }).y(function(d) { return yNO2(d[1]); });
svg.append('path').datum(no2Slimcat).attr('d', lineNO2).attr('fill', 'none').attr('stroke', '#000').attr('stroke-width', 0.9);

var sunPts = sunDay.map(function(d, i) { return [d, sunHours[i]]; });
svg.append('path').datum(sunPts)
  .attr('d', d3.line().x(function(d) { return x(d[0]); }).y(function(d) { return ySun(d[1]); }))
  .attr('fill', 'none').attr('stroke', '#000').attr('stroke-width', 2.2).attr('stroke-linejoin', 'round');

var obsG = svg.append('g');
obsG.selectAll('line.c').data(no2Obs).enter().append('line')
  .attr('x1', function(d) { return x(d[0]); }).attr('x2', function(d) { return x(d[0]); })
  .attr('y1', function(d) { return yNO2(d[1]); }).attr('y2', function(d) { return yNO2(d[2]); })
  .attr('stroke', '#333').attr('stroke-width', 0.8);
obsG.selectAll('circle.am').data(no2Obs).enter().append('circle')
  .attr('cx', function(d) { return x(d[0]); }).attr('cy', function(d) { return yNO2(d[1]); })
  .attr('r', 3.2).attr('fill', '#fff').attr('stroke', '#888').attr('stroke-width', 1);
obsG.selectAll('circle.pm').data(no2Obs).enter().append('circle')
  .attr('cx', function(d) { return x(d[0]) + 1; }).attr('cy', function(d) { return yNO2(d[2]); })
  .attr('r', 3.7).attr('fill', '#000');

// legend panel 1
var lg1 = svg.append('g');
[[83, 'am'], [117, 'pm'], [151, 'Slimcat']].forEach(function(r, i) {
  lg1.append('line').attr('x1', 102).attr('x2', 162).attr('y1', r[0]).attr('y2', r[0])
    .attr('stroke', '#555').attr('stroke-width', i === 2 ? 1.8 : 1.3);
  var t = lg1.append('text').attr('x', 168).attr('y', r[0] + 8).attr('font-size', 23);
  if (i === 2) { t.text('Slimcat'); return; }
  t.text('NO');
  t.append('tspan').attr('dy', 7).attr('font-size', 16).text('2');
  t.append('tspan').attr('dy', -7).text(' ' + r[1]);
});
lg1.append('circle').attr('cx', 130).attr('cy', 83).attr('r', 2.5).attr('fill', '#fff').attr('stroke', '#444');
lg1.append('circle').attr('cx', 130).attr('cy', 117).attr('r', 3.2).attr('fill', '#000');

// year labels
var yearY = [57, 63, 61, 60, 63, 62];
years.forEach(function(yr, i) {
  svg.append('text').attr('x', x(yearLabelDay[i])).attr('y', yearY[i]).attr('text-anchor', 'middle')
    .attr('font-size', 33).attr('font-weight', 'bold').text(yr);
});

// ---- panel 2: ozone ----
drawPanel(yO3, d3.range(100, 401, 50), d3.range(75, 451, 50), { fmt: plain });
svg.append('line').attr('x1', x(0) + 12).attr('x2', x(2190) + 6).attr('y1', yO3(o3Limit)).attr('y2', yO3(o3Limit))
  .attr('stroke', '#000').attr('stroke-width', 1.2)
  .attr('marker-start', 'url(#arr)').attr('marker-end', 'url(#arr)');
var lineO3 = d3.line().x(function(d) { return x(d[0]); }).y(function(d) { return yO3(d[1]); });
svg.append('path').datum(o3Slimcat).attr('d', lineO3).attr('fill', 'none').attr('stroke', '#000').attr('stroke-width', 0.9);
splitGaps(o3Eva, 20).forEach(function(seg) {
  svg.append('path').datum(seg).attr('d', lineO3).attr('fill', 'none').attr('stroke', '#000').attr('stroke-width', 1);
});
svg.append('g').selectAll('circle').data(o3Eva).enter().append('circle')
  .attr('cx', function(d) { return x(d[0]); }).attr('cy', function(d) { return yO3(d[1]); })
  .attr('r', 3.6).attr('fill', '#000');
var lg2 = svg.append('g');
lg2.append('line').attr('x1', 115).attr('x2', 172).attr('y1', 352).attr('y2', 352).attr('stroke', '#000');
lg2.append('circle').attr('cx', 143).attr('cy', 352).attr('r', 2.6).attr('fill', '#000');
var t2 = lg2.append('text').attr('x', 176).attr('y', 360).attr('font-size', 23).text('O');
t2.append('tspan').attr('dy', 7).attr('font-size', 16).text('3');
t2.append('tspan').attr('dy', -7).text(' EVA');
lg2.append('line').attr('x1', 115).attr('x2', 172).attr('y1', 380).attr('y2', 380).attr('stroke', '#555').attr('stroke-width', 1.3);
lg2.append('text').attr('x', 176).attr('y', 388).attr('font-size', 23).attr('font-weight', 'bold').text('Slimcat');

// ---- panel 3: temperature ----
drawPanel(yT, d3.range(180, 241, 20), d3.range(190, 251, 20), { fmt: plain, lowShift: 1 });
svg.append('path').datum(temp50)
  .attr('d', d3.line().x(function(d) { return x(d[0]); }).y(function(d) { return yT(d[1]); }))
  .attr('fill', 'none').attr('stroke', '#000').attr('stroke-width', 1);
svg.append('line').attr('x1', 138).attr('x2', 187).attr('y1', 533).attr('y2', 533).attr('stroke', '#555').attr('stroke-width', 1.3);
svg.append('text').attr('x', 192).attr('y', 540).attr('font-size', 20).text('50 hPa');

// ---- panel 4: PV ----
drawPanel(yPV, d3.range(-80, 1, 20), d3.range(-70, 0, 20), { fmt: plain, highShift: 9 });
svg.append('line').attr('x1', x(0)).attr('x2', x(2190)).attr('y1', yPV(pvLimit)).attr('y2', yPV(pvLimit))
  .attr('stroke', '#000').attr('stroke-width', 2);
var linePV = d3.line().x(function(d) { return x(d[0]); }).y(function(d) { return yPV(d[1]); });
splitGaps(pv475, 20).forEach(function(seg) {
  svg.append('path').datum(seg).attr('d', linePV).attr('fill', 'none').attr('stroke', '#000').attr('stroke-width', 1.6);
});
svg.append('rect').attr('x', 106).attr('y', 735).attr('width', 187).attr('height', 31)
  .attr('fill', '#fff').attr('stroke', '#000').attr('stroke-width', 1.3);
svg.append('line').attr('x1', 124).attr('x2', 177).attr('y1', 751).attr('y2', 751).attr('stroke', '#000').attr('stroke-width', 1.6);
svg.append('text').attr('x', 186).attr('y', 758).attr('font-size', 21).text('PV(475 K)');

// x tick labels
xTickDays.forEach(function(d) {
  svg.append('text').attr('x', x(d)).attr('y', 807).attr('text-anchor', 'middle').attr('font-size', 17).text(d);
});

// ---- axis titles ----
var a1 = svg.append('text').attr('transform', 'translate(35,162) rotate(-90)').attr('text-anchor', 'middle').attr('font-size', 21);
a1.append('tspan').text('NO');
a1.append('tspan').attr('dy', 6).attr('font-size', 15).text('2');
a1.append('tspan').attr('dy', -6).text(' total column (x10');
a1.append('tspan').attr('dy', -8).attr('font-size', 13).text('15');
a1.append('tspan').attr('dy', 8).text(' molec/cm');
a1.append('tspan').attr('dy', -8).attr('font-size', 13).text('2');
a1.append('tspan').attr('dy', 8).text(')');

svg.append('text').attr('transform', 'translate(48,390) rotate(-90)').attr('text-anchor', 'middle').attr('font-size', 25).text('Total ozone (UD)');
svg.append('text').attr('transform', 'translate(47,567) rotate(-90)').attr('text-anchor', 'middle').attr('font-size', 21).text('Temperature (K)');
svg.append('text').attr('transform', 'translate(34,712) rotate(-90)').attr('text-anchor', 'middle').attr('font-size', 18).text('Potencial Vorticiy');
var a4 = svg.append('text').attr('transform', 'translate(62,712) rotate(-90)').attr('text-anchor', 'middle').attr('font-size', 18);
a4.append('tspan').text('(x10');
a4.append('tspan').attr('dy', -7).attr('font-size', 12).text('6');
a4.append('tspan').attr('dy', 7).text('  km');
a4.append('tspan').attr('dy', -7).attr('font-size', 12).text('2');
a4.append('tspan').attr('dy', 7).text(' kg');
a4.append('tspan').attr('dy', -7).attr('font-size', 12).text('-1');
a4.append('tspan').attr('dy', 7).text(' s');
a4.append('tspan').attr('dy', -7).attr('font-size', 12).text('-1');
a4.append('tspan').attr('dy', 7).text(')');

svg.append('text').attr('x', 75).attr('y', 839).attr('font-size', 31).attr('font-weight', 'bold').text('BELGRANO (78ºS, 35ºW)');
svg.append('text').attr('x', 857).attr('y', 840).attr('text-anchor', 'end').attr('font-size', 32).text('Day number since 1.1.1995');
</script>
</body>
</html>
